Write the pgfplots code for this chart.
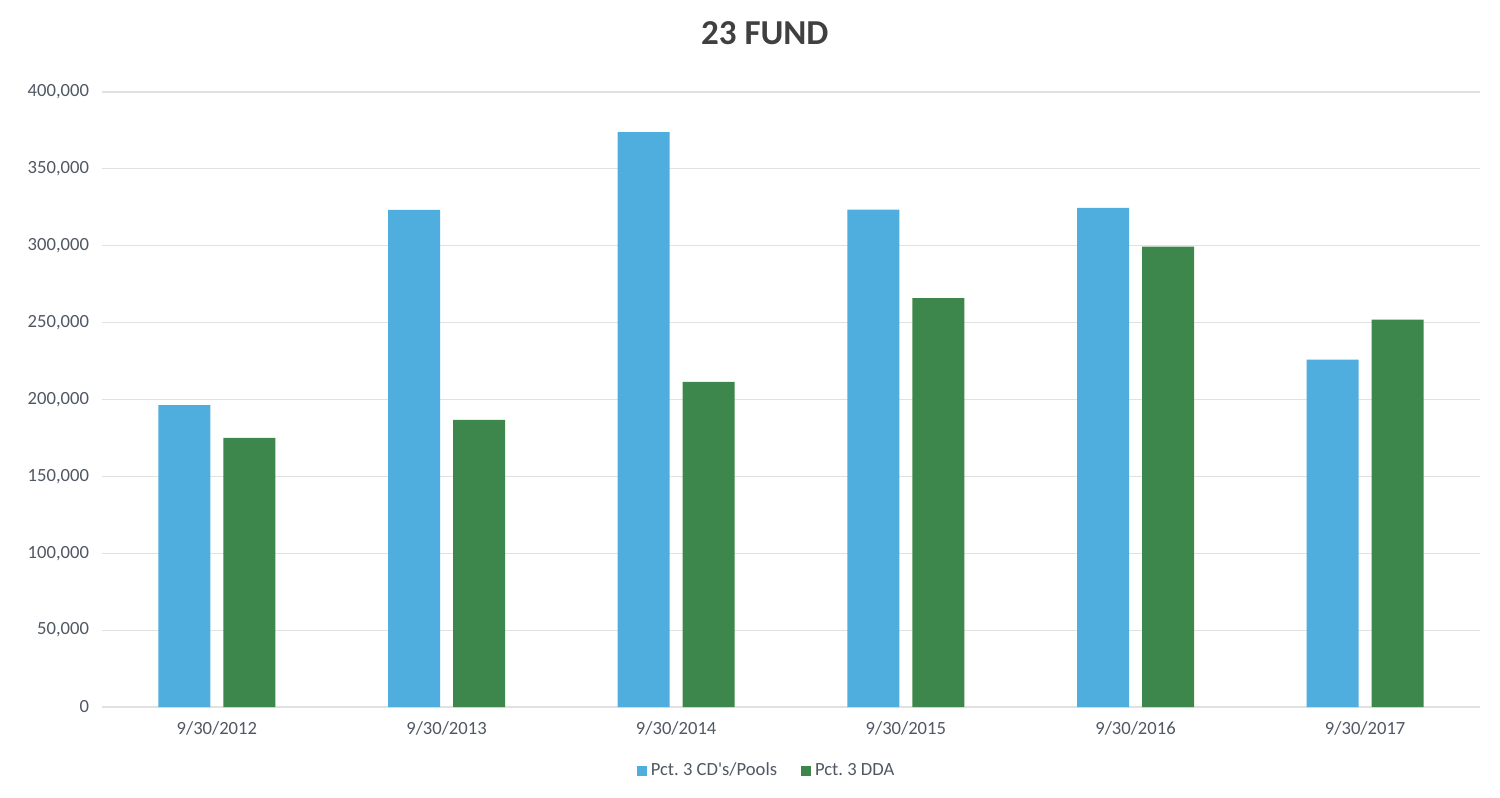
\documentclass[border=0pt]{standalone}
\usepackage{fontspec}
\setmainfont{Carlito}
\usepackage{pgfplots}
\pgfplotsset{compat=1.18}
\frenchspacing
\definecolor{cdblue}{RGB}{80,174,222}
\definecolor{ddagreen}{RGB}{62,135,76}
\definecolor{txt}{RGB}{80,88,100}
\definecolor{gridc}{RGB}{225,225,225}
\begin{document}
\begin{tikzpicture}
\useasboundingbox (-51pt,-45.5pt) rectangle (699pt,353.5pt);
\fill[white] (-51pt,-45.5pt) rectangle (699pt,353.5pt);
\begin{axis}[
  at={(0pt,0pt)}, anchor=south west,
  scale only axis,
  width=689pt, height=307.5pt,
  ybar=6.5pt, bar width=26pt,
  xmin=-0.5, xmax=5.5,
  ymin=0, ymax=400000,
  xtick=data,
  xticklabels={9/30/2012,9/30/2013,9/30/2014,9/30/2015,9/30/2016,9/30/2017},
  ytick={0,50000,100000,150000,200000,250000,300000,350000,400000},
  scaled y ticks=false,
  /pgf/number format/assume math mode=true,
  yticklabel={\pgfmathprintnumber[fixed,1000 sep={,}]{\tick}},
  ymajorgrids, grid style={gridc, line width=0.6pt},
  axis line style={draw=none},
  major tick length=0pt,
  tick label style={font=\fontsize{9.3}{10}\selectfont, text=txt},
  xticklabel style={yshift=-4pt},
  yticklabel style={xshift=-3pt},
  title={\textbf{23 FUND}},
  title style={at={(0.481,1.076)}, anchor=center, font=\fontsize{17.5}{20}\selectfont, text=black!75},
  legend style={at={(0.483,-0.104)}, anchor=center, draw=none, fill=none,
    legend columns=2, font=\fontsize{9.3}{10}\selectfont, text=txt,
    /tikz/every even column/.append style={column sep=10pt}},
  legend image code/.code={\fill[#1] (0pt,-2.5pt) rectangle (5pt,2.5pt);},
]
\addplot[fill=cdblue, draw=none] coordinates {(0,196300) (1,323300) (2,373900) (3,323500) (4,324600) (5,225900)};
\addplot[fill=ddagreen, draw=none] coordinates {(0,175000) (1,186800) (2,211500) (3,266000) (4,299400) (5,252000)};
\legend{Pct. 3 CD\textquotesingle s/Pools, Pct. 3 DDA}
\end{axis}
\end{tikzpicture}
\end{document}
